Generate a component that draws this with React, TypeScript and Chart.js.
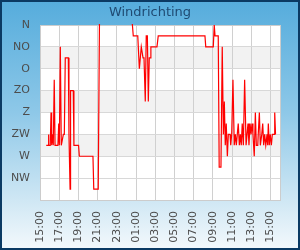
import React, { useEffect, useRef } from "react";
import { Chart, registerables } from "chart.js";

Chart.register(...registerables);

const TITLE = "Windrichting";
const DIRECTION_LABELS = ["N", "NO", "O", "ZO", "Z", "ZW", "W", "NW", ""];
const START_HOUR = 15;
const X_TICK_HOURS = [0, 2, 4, 6, 8, 10, 12, 14, 16, 18, 20, 22, 24];

// minutes since 15:00 (day 1)
const minutesSinceStart = [
  39, 50, 52, 56, 64, 69, 73, 78, 83, 89, 94, 112, 117, 121, 127, 133, 137, 146, 152, 158,
  177, 181, 188, 191, 208, 212, 241, 246, 331, 336, 364, 372, 572, 583, 611, 621, 633, 644, 650, 658,
  664, 671, 677, 683, 689, 693, 731, 739, 1031, 1036, 1083, 1089, 1094, 1114, 1120, 1131, 1139, 1146, 1152, 1158,
  1164, 1171, 1177, 1188, 1192, 1198, 1206, 1214, 1221, 1227, 1233, 1239, 1246, 1252, 1258, 1264, 1271, 1279, 1288, 1294,
  1300, 1306, 1313, 1319, 1325, 1331, 1339, 1346, 1352, 1361, 1364, 1371, 1377, 1386, 1392, 1398, 1404, 1411, 1419, 1423,
  1427, 1433, 1439, 1446, 1452, 1463, 1467, 1472,
];

// wind direction in degrees (0 = N at top)
const directionDegrees = [
  247.5, 247.5, 225, 247.5, 247.5, 180, 247.5, 225, 247.5, 112.5, 247.5, 247.5, 202.5, 247.5, 45, 247.5, 247.5, 225, 225, 67.5,
  67.5, 225, 337.5, 135, 135, 247.5, 247.5, 270, 270, 337.5, 337.5, -22.5, -22.5, 22.5, 22.5, 90, 45, 67.5, 67.5, 157.5,
  22.5, 22.5, 157.5, 67.5, 67.5, 45, 45, 22.5, 22.5, 45, 45, 0, 22.5, 22.5, 292.5, 292.5, 45, 225, 157.5, 247.5,
  202.5, 270, 225, 225, 247.5, 225, 112.5, 247.5, 225, 247.5, 225, 202.5, 247.5, 225, 247.5, 202.5, 247.5, 112.5, 247.5, 225,
  202.5, 247.5, 202.5, 225, 202.5, 225, 270, 180, 247.5, 247.5, 225, 180, 247.5, 225, 202.5, 247.5, 225, 247.5, 225, 247.5,
  202.5, 247.5, 225, 247.5, 225, 225, 180, 225,
];

const BANDS = [
  [45, 90],
  [135, 180],
  [225, 270],
];

const backgroundPlugin = {
  id: "bgPlugin",
  beforeDraw(chart: any) {
    const { ctx, width, height, chartArea, scales } = chart;
    ctx.save();
    const g = ctx.createLinearGradient(0, 0, 0, height);
    g.addColorStop(0, "#55acdc");
    g.addColorStop(0.45, "#8ec8e8");
    g.addColorStop(0.8, "#cfe7f4");
    g.addColorStop(1, "#f4f9fc");
    ctx.fillStyle = g;
    ctx.fillRect(0, 0, width, height);
    ctx.lineWidth = 2;
    ctx.strokeStyle = "#0b3a63";
    ctx.strokeRect(1, 1, width - 2, height - 2);
    // plot background
    ctx.fillStyle = "#ffffff";
    ctx.fillRect(chartArea.left, chartArea.top, chartArea.right - chartArea.left, chartArea.bottom - chartArea.top);
    const y = scales.y;
    ctx.fillStyle = "#f2f2f2";
    for (const [a, b] of BANDS) {
      const y1 = y.getPixelForValue(a);
      const y2 = y.getPixelForValue(b);
      ctx.fillRect(chartArea.left, Math.min(y1, y2), chartArea.right - chartArea.left, Math.abs(y2 - y1));
    }
    // title
    ctx.fillStyle = "#1f4a72";
    ctx.font = '13px "DejaVu Sans"';
    ctx.textAlign = "center";
    ctx.textBaseline = "alphabetic";
    ctx.fillText(TITLE, width / 2, 16);
    ctx.restore();
  },
  beforeDatasetsDraw(chart: any) {
    const { ctx, chartArea } = chart;
    ctx.save();
    ctx.strokeStyle = "#cccccc";
    ctx.lineWidth = 1;
    ctx.strokeRect(
      Math.round(chartArea.left) + 0.5,
      Math.round(chartArea.top) + 0.5,
      Math.round(chartArea.right - chartArea.left) - 1 + 1,
      Math.round(chartArea.bottom - chartArea.top)
    );
    ctx.restore();
  },
};

export default function App() {
  const ref = useRef<HTMLCanvasElement | null>(null);
  useEffect(() => {
    if (!ref.current) return;
    const points = minutesSinceStart.map((m, i) => ({ x: m / 60, y: directionDegrees[i] }));
    const chart = new Chart(ref.current, {
      type: "line",
      data: {
        datasets: [
          {
            data: points,
            borderColor: "#ff0000",
            borderWidth: 1.2,
            pointRadius: 0,
            tension: 0,
            fill: false,
            clip: 1,
          },
        ],
      },
      plugins: [backgroundPlugin],
      options: {
        animation: false,
        responsive: false,
        maintainAspectRatio: false,
        layout: { padding: { top: 25, left: 0, right: 20, bottom: 0 } },
        plugins: { legend: { display: false }, tooltip: { enabled: false }, title: { display: false } },
        scales: {
          x: {
            type: "linear",
            min: 0,
            max: 25,
            afterBuildTicks: (scale: any) => {
              scale.ticks = X_TICK_HOURS.map((v) => ({ value: v }));
            },
            afterFit: (scale: any) => {
              scale.height = 50;
            },
            grid: { color: "#d0d0d0", drawTicks: false, lineWidth: 1 },
            border: { display: false },
            ticks: {
              autoSkip: false,
              minRotation: 90,
              maxRotation: 90,
              padding: 11,
              color: "#4d4d4d",
              font: { family: "DejaVu Sans", size: 11 },
              callback: (v: any) => {
                const h = (START_HOUR + Number(v)) % 24;
                return String(h).padStart(2, "0") + ":00";
              },
            },
          },
          y: {
            type: "linear",
            min: 0,
            max: 360,
            reverse: true,
            afterBuildTicks: (scale: any) => {
              scale.ticks = DIRECTION_LABELS.map((_, i) => ({ value: i * 45 }));
            },
            afterFit: (scale: any) => {
              scale.width = 40;
            },
            grid: { color: "#d8d8d8", drawTicks: false, lineWidth: 1 },
            border: { display: false },
            ticks: {
              autoSkip: false,
              padding: 10,
              color: "#4d4d4d",
              font: { family: "DejaVu Sans", size: 11 },
              callback: (v: any) => DIRECTION_LABELS[Math.round(Number(v) / 45)] ?? "",
            },
          },
        },
      },
    });
    return () => chart.destroy();
  }, []);
  return (
    <div style={{ position: "absolute", left: 0, top: 0, width: 300, height: 250 }}>
      <canvas ref={ref} width={300} height={250} style={{ display: "block" }} />
    </div>
  );
}
